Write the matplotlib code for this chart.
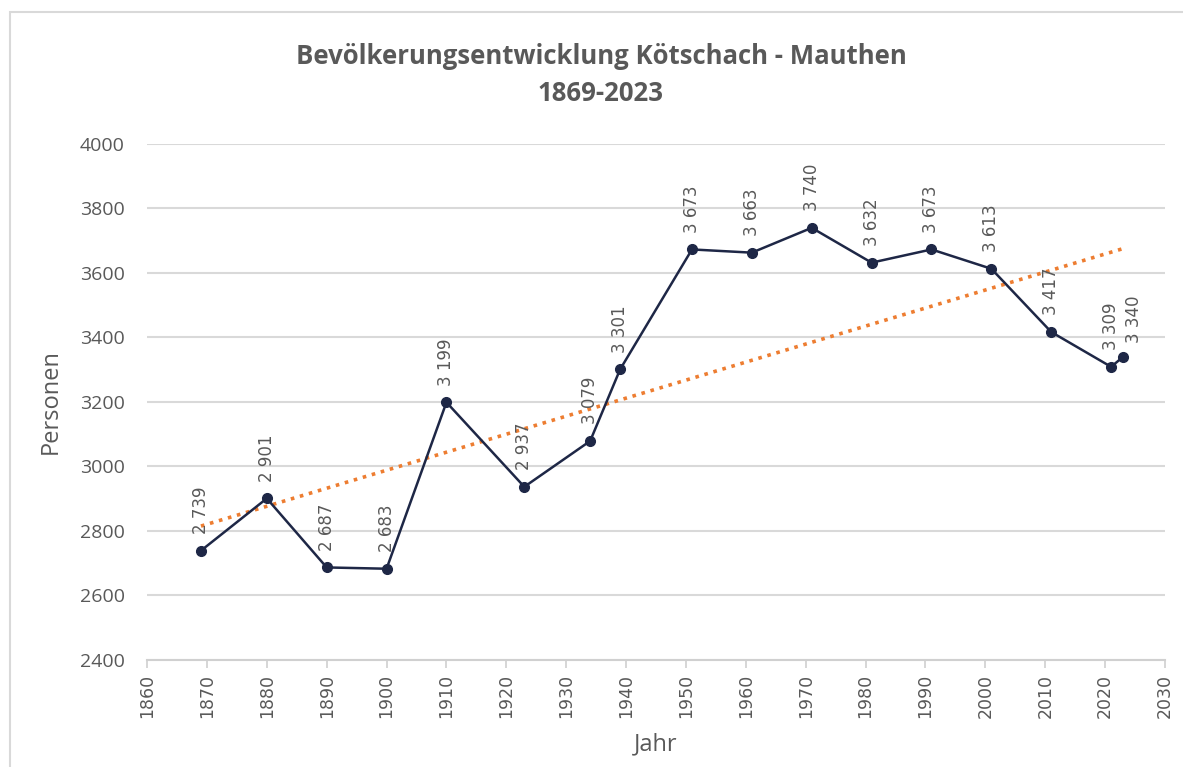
import matplotlib
matplotlib.use("Agg")
import matplotlib.pyplot as plt
import numpy as np
from matplotlib.patches import Rectangle

# Population data Kötschach-Mauthen
years = [1869, 1880, 1890, 1900, 1910, 1923, 1934, 1939, 1951, 1961,
         1971, 1981, 1991, 2001, 2011, 2021, 2023]
population = [2739, 2901, 2687, 2683, 3199, 2937, 3079, 3301, 3673, 3663,
              3740, 3632, 3673, 3613, 3417, 3309, 3340]
x_ticks = list(range(1860, 2031, 10))
y_ticks = list(range(2400, 4001, 200))

title = "Bevölkerungsentwicklung Kötschach - Mauthen\n1869-2023"

gray = "#595959"
navy = "#1e2746"
orange = "#ed7d31"

fig = plt.figure(figsize=(11.83, 7.67), dpi=100)
ax = fig.add_axes([0.1243, 0.1395, 0.8605, 0.6728])

# chart border
fig.patches.append(Rectangle((10 / 1183, -0.01), 1.1, 1 - 12 / 767 + 0.01,
                             transform=fig.transFigure, fill=False,
                             edgecolor="#d9d9d9", linewidth=1.5))

# linear trend line (like Excel)
k, d = np.polyfit(years, population, 1)
tx = np.array([years[0], years[-1]])
ax.plot(tx, k * tx + d, color=orange, linestyle=(0, (1, 1.6)), linewidth=2.6, zorder=2)

ax.plot(years, population, color=navy, linewidth=1.8, marker="o", markersize=7, zorder=3)

for i, (xv, yv) in enumerate(zip(years, population)):
    off = (0, 12)
    if i == len(years) - 1:
        off = (8, 10)  # last label pushed right like in the original
    ax.annotate(f"{yv:,}".replace(",", " "), (xv, yv), xytext=off,
                textcoords="offset points", rotation=90, ha="center", va="bottom",
                fontsize=12, color=gray, family="DejaVu Sans", zorder=4)

ax.set_xlim(1860, 2030)
ax.set_ylim(2400, 4000)
ax.set_xticks(x_ticks)
ax.set_yticks(y_ticks)
ax.set_xticklabels([str(t) for t in x_ticks], rotation=90, fontsize=12.5,
                   color=gray, family="DejaVu Sans")
ax.set_yticklabels([str(t) for t in y_ticks], fontsize=14, color=gray, family="Open Sans")

ax.grid(axis="y", color="#d9d9d9", linewidth=1.5)
ax.set_axisbelow(True)
for s in ["top", "right", "left"]:
    ax.spines[s].set_visible(False)
ax.spines["bottom"].set_color("#d0d0d0")
ax.spines["bottom"].set_linewidth(1.5)
ax.tick_params(axis="y", length=0, pad=16)
ax.tick_params(axis="x", length=6, color="#d0d0d0", width=1.2, pad=4)

ax.set_xlabel("Jahr", fontsize=17, color=gray, family="Open Sans", labelpad=10)
ax.set_ylabel("Personen", fontsize=17, color=gray, family="Open Sans", labelpad=12)

fig.text(0.508, 0.902, title, ha="center", va="center", fontsize=18.5, fontweight="bold",
         color=gray, family="Open Sans", linespacing=1.45)

fig.savefig("out.png", dpi=100)
